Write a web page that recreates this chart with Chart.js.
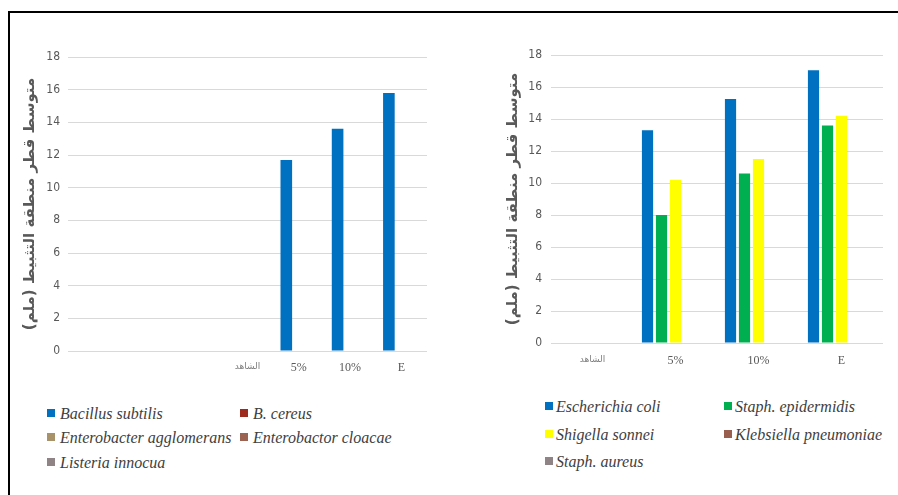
<!DOCTYPE html>
<html>
<head>
<meta charset="utf-8">
<script src="https://cdn.jsdelivr.net/npm/chart.js@4.4.1/dist/chart.umd.min.js"></script>
<style>
  html, body { margin: 0; padding: 0; background: #fff; width: 898px; height: 495px; overflow: hidden; }
  body { position: relative; }
  .frame { position: absolute; left: 8px; top: 11px; width: 1000px; height: 600px;
           border-top: 2px solid #000; border-left: 2px solid #000; box-sizing: border-box; }
  canvas { position: absolute; display: block; }
  #leftChart { left: 0; top: 0; }
  #rightChart { left: 460px; top: 0; }
  .sw { position: absolute; width: 8px; height: 8px; }
  .lt { position: absolute; white-space: nowrap; font-family: "Liberation Serif", "DejaVu Serif", serif;
        font-style: italic; font-size: 16px; line-height: 16px; color: #404040; }
</style>
</head>
<body>
<div class="frame"></div>
<canvas id="leftChart" width="460" height="395"></canvas>
<canvas id="rightChart" width="438" height="385"></canvas>
<div id="legends"></div>
<script>
// ---- Data: inhibition zone diameter (mm) ----
const yAxisTitle = 'متوسط قطر منطقة التثبيط (ملم)\u200F';
const yTickMin = 0;
const yTickMax = 18;
const yTickStep = 2;

// Gram-positive panel
const leftCategories = ['', '', '', 'الشاهد', '5%', '10%', 'E'];
const leftSeriesNames = ['Bacillus subtilis', 'B. cereus', 'Enterobacter agglomerans', 'Enterobactor cloacae', 'Listeria innocua'];
const leftSeriesColors = ['#0070C0', '#9E2A1E', '#A8926A', '#9A6352', '#8F8386'];
const bacillusSubtilis = [null, null, null, 0, 11.7, 13.6, 15.8];
const bCereus = [null, null, null, null, null, null, null];
const enterobacterAgglomerans = [null, null, null, null, null, null, null];
const enterobactorCloacae = [null, null, null, null, null, null, null];
const listeriaInnocua = [null, null, null, null, null, null, null];

// Gram-negative / staph panel
const rightCategories = ['الشاهد', '5%', '10%', 'E'];
const rightSeriesNames = ['Escherichia coli', 'Staph. epidermidis', 'Shigella sonnei', 'Klebsiella pneumoniae', 'Staph. aureus'];
const rightSeriesColors = ['#0070C0', '#00B050', '#FFFF00', '#9A5E4E', '#8F8386'];
const escherichiaColi = [0, 13.3, 15.25, 17.05];
const staphEpidermidis = [0, 8.0, 10.6, 13.6];
const shigellaSonnei = [0, 10.2, 11.5, 14.2];
const klebsiellaPneumoniae = [null, null, null, null];
const staphAureus = [null, null, null, null];

const leftSeries = [bacillusSubtilis, bCereus, enterobacterAgglomerans, enterobactorCloacae, listeriaInnocua];
const rightSeries = [escherichiaColi, staphEpidermidis, shigellaSonnei, klebsiellaPneumoniae, staphAureus];

// ---- Drawing ----
const GRID = '#D9D9D9';
const TICK = '#595959';
const ARABIC_LABEL = 'الشاهد';

function buildChart(canvasId, cfg) {
  const datasets = cfg.series.map((values, i) => ({
    label: cfg.names[i],
    data: values,
    backgroundColor: cfg.colors[i],
    borderWidth: 0,
    stack: cfg.stacks ? cfg.stacks[i] : undefined,
    categoryPercentage: cfg.categoryPercentage,
    barPercentage: cfg.barPercentage
  }));
  return new Chart(document.getElementById(canvasId), {
    type: 'bar',
    data: { labels: cfg.categories, datasets },
    options: {
      responsive: false,
      animation: false,
      devicePixelRatio: 1,
      layout: { padding: cfg.padding },
      plugins: { legend: { display: false }, tooltip: { enabled: false } },
      scales: {
        x: {
          grid: { display: false, drawTicks: false },
          border: { display: false },
          ticks: {
            padding: cfg.xTickPadding,
            maxRotation: 0,
            autoSkip: false,
            color: (ctx) => (ctx.tick && ctx.tick.label === ARABIC_LABEL) ? '#7F7F7F' : TICK,
            font: (ctx) => (ctx.tick && ctx.tick.label === ARABIC_LABEL)
              ? { family: '"DejaVu Sans", sans-serif', size: 9 }
              : { family: '"Liberation Serif", serif', size: 12 }
          },
          afterFit: (s) => { s.height = cfg.xHeight; }
        },
        y: {
          min: yTickMin,
          max: yTickMax,
          grid: { color: GRID, lineWidth: 1, drawTicks: false },
          border: { display: false },
          ticks: {
            stepSize: yTickStep,
            padding: cfg.yTickPadding,
            color: TICK,
            font: { family: '"Liberation Sans Narrow", "DejaVu Sans Condensed", sans-serif', size: 12 }
          },
          title: {
            display: true,
            text: yAxisTitle,
            color: '#595959',
            padding: { top: cfg.titlePad, bottom: 0 },
            font: { family: '"DejaVu Sans", sans-serif', size: 15, weight: 'bold' }
          },
          afterFit: (s) => { s.width = cfg.yWidth; }
        }
      }
    }
  });
}

buildChart('leftChart', {
  categories: leftCategories,
  series: leftSeries,
  names: leftSeriesNames,
  colors: leftSeriesColors,
  stacks: ['g1', 'g2', 'g3', 'g3', 'g3'],
  categoryPercentage: 0.73,
  barPercentage: 0.93,
  padding: { left: 0, right: 33, top: 57, bottom: 0 },
  yWidth: 68,
  xHeight: 44,
  xTickPadding: 10,
  yTickPadding: 8,
  titlePad: 21
});

buildChart('rightChart', {
  categories: rightCategories,
  series: rightSeries,
  names: rightSeriesNames,
  colors: rightSeriesColors,
  categoryPercentage: 0.843,
  barPercentage: 0.8,
  padding: { left: 0, right: 15, top: 55, bottom: 0 },
  yWidth: 91,
  xHeight: 42,
  xTickPadding: 11,
  yTickPadding: 9,
  titlePad: 44
});

// ---- Legends (two columns, filled row by row) ----
function buildLegend(names, colors, colX, textGap, rowY) {
  const host = document.getElementById('legends');
  names.forEach((name, i) => {
    const col = i % 2, row = Math.floor(i / 2);
    const x = colX[col], cy = rowY[row];
    const sw = document.createElement('div');
    sw.className = 'sw';
    sw.style.left = x + 'px';
    sw.style.top = (cy - 4) + 'px';
    sw.style.background = colors[i];
    host.appendChild(sw);
    const t = document.createElement('div');
    t.className = 'lt';
    t.textContent = name;
    t.style.left = (x + textGap) + 'px';
    t.style.top = (cy - 7) + 'px';
    host.appendChild(t);
  });
}
buildLegend(leftSeriesNames, leftSeriesColors, [47, 240], 13, [413, 437, 462]);
buildLegend(rightSeriesNames, rightSeriesColors, [545, 724], 11, [406, 434, 461]);
</script>
</body>
</html>
